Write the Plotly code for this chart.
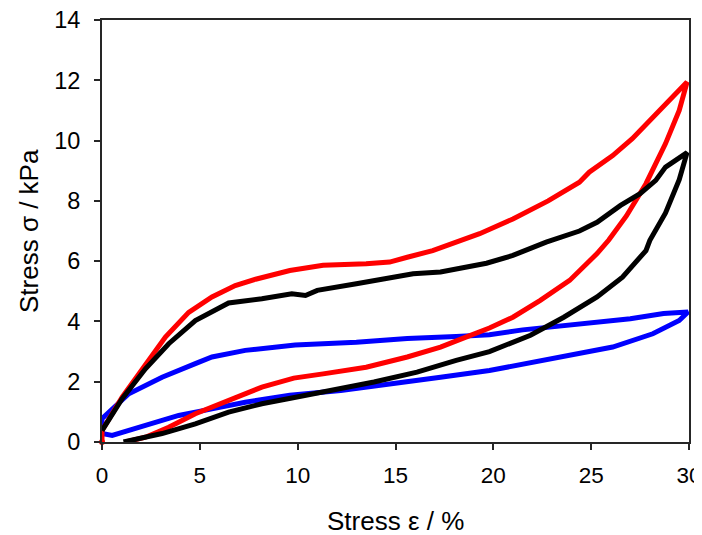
import plotly.graph_objects as go

# Red loop (loading then unloading)
red_x = [0, 0, 1.03, 2.22, 3.24, 4.43, 5.62, 6.81, 7.85, 9.6, 11.3, 13.5, 14.7, 15.6, 16.9, 19.3, 21.0, 22.8, 24.4, 24.9, 26.1, 27.1, 29.0, 29.9,
         29.5, 28.8, 27.8, 26.8, 25.9, 25.3, 23.9, 22.4, 21.0, 19.8, 18.6, 17.3, 15.6, 13.5, 11.3, 9.8, 8.17, 6.47, 4.77, 3.41, 2.22, 1.2]
red_y = [0, 0.38, 1.49, 2.6, 3.48, 4.3, 4.81, 5.19, 5.4, 5.69, 5.86, 5.91, 5.97, 6.13, 6.35, 6.91, 7.4, 8.0, 8.62, 8.95, 9.5, 10.06, 11.33, 11.94,
         11.0, 9.9, 8.57, 7.5, 6.7, 6.25, 5.36, 4.70, 4.14, 3.78, 3.48, 3.15, 2.82, 2.48, 2.26, 2.12, 1.82, 1.38, 0.94, 0.49, 0.16, 0.0]

# Black loop
black_x = [0, 1.03, 2.22, 3.41, 4.77, 6.47, 8.17, 9.7, 10.4, 11.0, 13.0, 14.7, 15.9, 17.3, 18.5, 19.65, 21.0, 22.7, 24.4, 25.3, 26.5, 27.5, 28.3, 28.8, 29.9,
           29.5, 28.8, 28.0, 27.8, 26.6, 25.3, 23.6, 21.9, 20.2, 19.8, 18.1, 16.1, 13.9, 11.8, 9.7, 8.17, 6.47, 4.77, 3.07, 1.1]
black_y = [0.38, 1.44, 2.43, 3.26, 4.03, 4.61, 4.75, 4.92, 4.86, 5.03, 5.25, 5.42, 5.58, 5.64, 5.80, 5.93, 6.19, 6.63, 7.0, 7.29, 7.85, 8.24, 8.68, 9.12, 9.6,
           8.7, 7.6, 6.69, 6.35, 5.47, 4.81, 4.14, 3.54, 3.09, 3.0, 2.71, 2.32, 1.99, 1.71, 1.46, 1.27, 0.99, 0.6, 0.28, 0.0]

# Blue loop
blue_x = [0, 0, 1.37, 3.07, 4.77, 5.62, 7.32, 9.87, 13.0, 15.6, 18.1, 19.8, 21.5, 24.4, 27.0, 28.7, 29.95,
          29.5, 28.15, 26.1, 24.4, 22.2, 19.8, 17.3, 14.7, 12.2, 9.6, 7.32, 5.62, 3.92, 2.22, 0.52, 0]
blue_y = [0.28, 0.77, 1.6, 2.15, 2.6, 2.82, 3.04, 3.22, 3.31, 3.43, 3.5, 3.56, 3.72, 3.92, 4.09, 4.26, 4.31,
          4.03, 3.59, 3.15, 2.93, 2.65, 2.37, 2.15, 1.93, 1.71, 1.55, 1.32, 1.10, 0.88, 0.55, 0.22, 0.28]

x_ticks = [0, 5, 10, 15, 20, 25, 30]
y_ticks = [0, 2, 4, 6, 8, 10, 12, 14]
x_title = "Stress ε / %"
y_title = "Stress σ / kPa"

fig = go.Figure()
for xs, ys, col in [(blue_x, blue_y, "#0000FF"), (red_x, red_y, "#FF0000"), (black_x, black_y, "#000000")]:
    fig.add_trace(go.Scatter(x=xs, y=ys, mode="lines", line=dict(color=col, width=5), showlegend=False))
# small red dot at the start of the red loop
fig.add_trace(go.Scatter(x=red_x[:1], y=red_y[:1], mode="markers", marker=dict(color="#FF0000", size=6),
                         cliponaxis=False, showlegend=False))

fam = "Liberation Sans, Arial, sans-serif"
title_font = dict(family=fam, size=26, color="#000000")
axis_common = dict(showgrid=False, zeroline=False, automargin=False,
                   showline=True, linecolor="#262626", linewidth=2, mirror=True,
                   ticks="outside", ticklen=6, tickwidth=2, tickcolor="#262626",
                   ticklabeloverflow="allow")
fig.update_layout(
    width=702, height=535,
    margin=dict(l=94, r=21, t=12, b=101),
    paper_bgcolor="white", plot_bgcolor="white",
    xaxis=dict(range=[0, 30], tickvals=x_ticks, ticklabelstandoff=6,
               tickfont=dict(family=fam, size=22.5, color="#000000"), **axis_common),
    yaxis=dict(range=[0, 14], tickvals=y_ticks, ticklabelstandoff=9,
               tickfont=dict(family=fam, size=23.5, color="#000000"), **axis_common),
    annotations=[
        dict(text=x_title, xref="paper", yref="paper", x=0.5, y=0, xanchor="center", yanchor="middle",
             yshift=-79, showarrow=False, font=title_font),
        dict(text=y_title, xref="paper", yref="paper", x=0, y=0.5, xanchor="center", yanchor="middle",
             xshift=-73, textangle=-90, showarrow=False, font=title_font),
    ],
)
fig.write_html("out.html")
